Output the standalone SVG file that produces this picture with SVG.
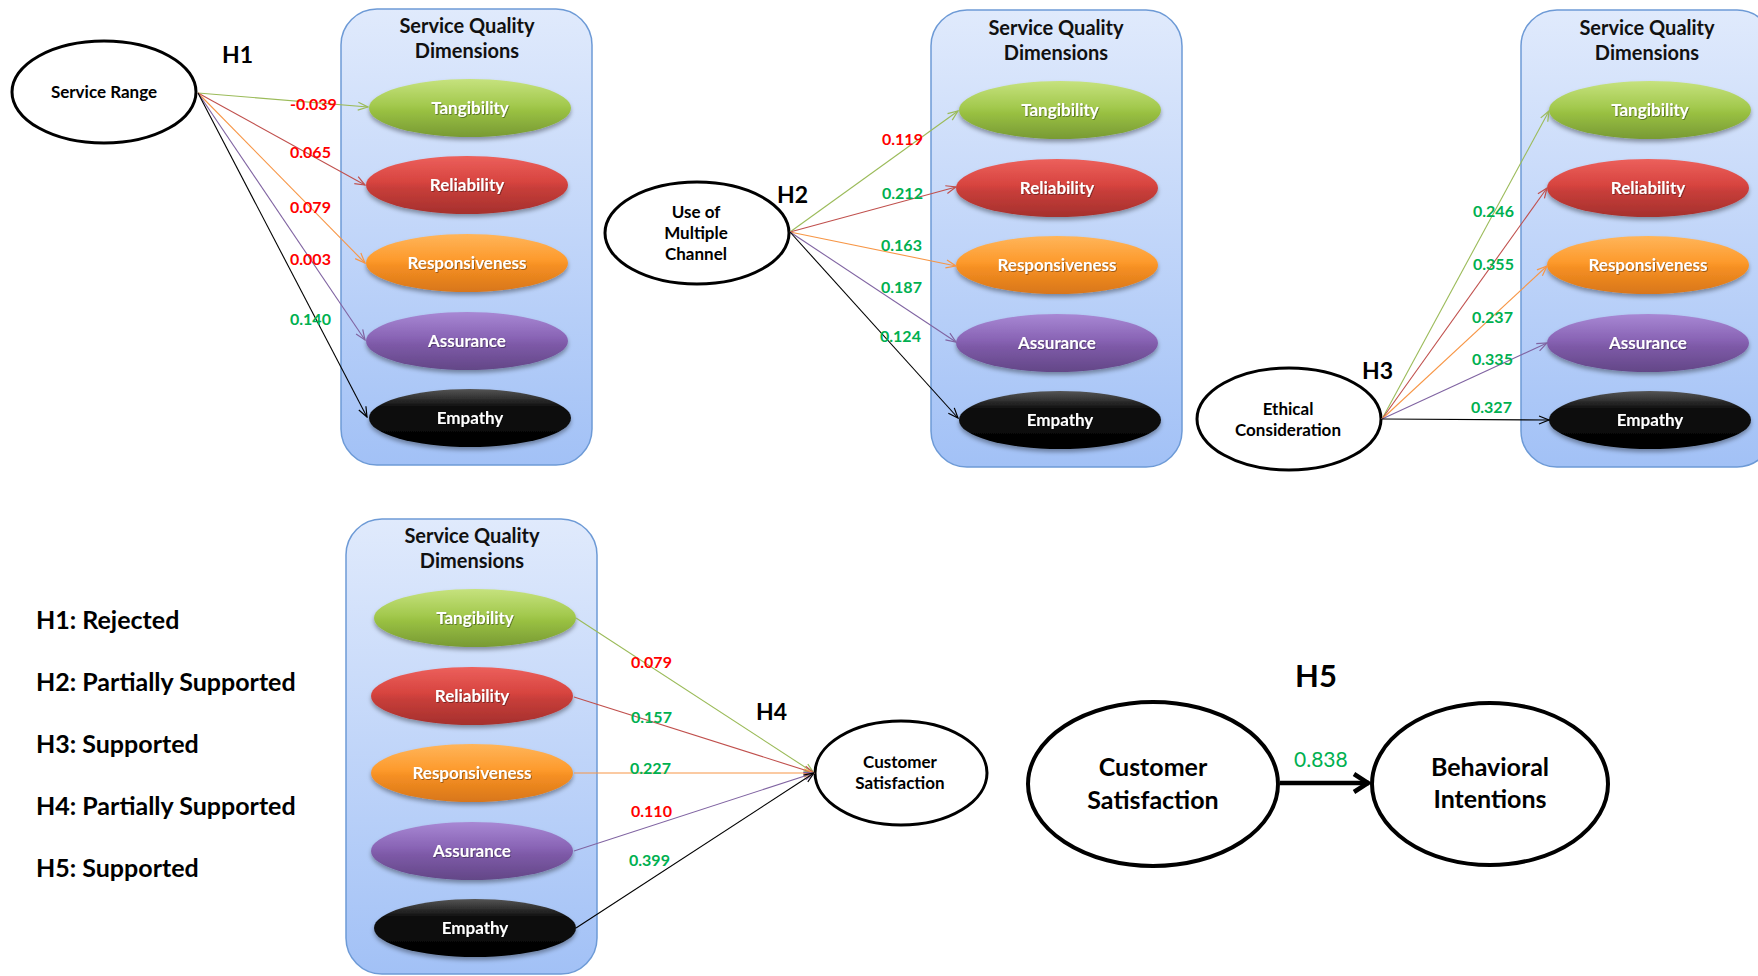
<svg xmlns="http://www.w3.org/2000/svg" width="1758" height="976" viewBox="0 0 1758 976">
  <style>
    text { font-family: Lato, "Liberation Sans", sans-serif; font-weight: 700; }
    .box { stroke: #6D9AD6; stroke-width: 1.5; fill: url(#boxFill); }
    .ttl { font-size: 20px; fill: #111; text-anchor: middle; }
    .dim { stroke: none; filter: url(#shadow); }
    .dl { font-size: 17px; fill: #fff; text-anchor: middle; filter: url(#txtShadow); }
    .oval { fill: #fff; stroke: #000; stroke-width: 3; }
    .big { stroke-width: 4; }
    .ol { font-size: 17px; fill: #000; text-anchor: middle; }
    .bl { font-size: 25px; fill: #000; text-anchor: middle; }
    .hyp { font-size: 23px; fill: #000; }
    .leg { font-size: 25px; fill: #000; }
    .num { font-size: 16px; }
    .red { fill: #FF0000; }
    .grn { fill: #00B050; }
    .edge { fill: none; stroke-width: 1.1; }
    .eg { stroke: #9BBB59; } .er { stroke: #C0504D; } .eo { stroke: #F79646; }
    .ep { stroke: #8064A2; } .ek { stroke: #000; }
  </style>
  <defs>
    <linearGradient id="boxFill" x1="0" y1="0" x2="0" y2="1">
      <stop offset="0" stop-color="#E0EAFC"/>
      <stop offset="1" stop-color="#A2C1F6"/>
    </linearGradient>
    <linearGradient id="gGreen" x1="0" y1="0" x2="0" y2="1">
      <stop offset="0" stop-color="#C6E27E"/>
      <stop offset="0.45" stop-color="#A3C94E"/>
      <stop offset="0.55" stop-color="#99C042"/>
      <stop offset="1" stop-color="#789A34"/>
    </linearGradient>
    <linearGradient id="gRed" x1="0" y1="0" x2="0" y2="1">
      <stop offset="0" stop-color="#EC605C"/>
      <stop offset="0.45" stop-color="#D7443F"/>
      <stop offset="0.55" stop-color="#C83E3A"/>
      <stop offset="1" stop-color="#A5302D"/>
    </linearGradient>
    <linearGradient id="gOrange" x1="0" y1="0" x2="0" y2="1">
      <stop offset="0" stop-color="#FFB55A"/>
      <stop offset="0.45" stop-color="#FD9A2C"/>
      <stop offset="0.55" stop-color="#F58F22"/>
      <stop offset="1" stop-color="#D8761A"/>
    </linearGradient>
    <linearGradient id="gPurple" x1="0" y1="0" x2="0" y2="1">
      <stop offset="0" stop-color="#A888D4"/>
      <stop offset="0.45" stop-color="#8863B4"/>
      <stop offset="0.55" stop-color="#7E5AA8"/>
      <stop offset="1" stop-color="#634787"/>
    </linearGradient>
    <linearGradient id="gBlack" x1="0" y1="0" x2="0" y2="1">
      <stop offset="0" stop-color="#555"/>
      <stop offset="0.3" stop-color="#111"/>
      <stop offset="1" stop-color="#000"/>
    </linearGradient>
    <filter id="shadow" x="-10%" y="-20%" width="120%" height="150%">
      <feDropShadow dx="0" dy="3" stdDeviation="2" flood-color="#000" flood-opacity="0.35"/>
    </filter>
    <filter id="txtShadow" x="-10%" y="-30%" width="120%" height="160%">
      <feDropShadow dx="0.8" dy="0.8" stdDeviation="0.5" flood-color="#000" flood-opacity="0.45"/>
    </filter>
    <marker id="aG" viewBox="0 0 12 10" refX="11" refY="5" markerWidth="12" markerHeight="10" markerUnits="userSpaceOnUse" orient="auto">
      <path d="M1,1 L11,5 L1,9" fill="none" stroke="#9BBB59" stroke-width="1.2"/>
    </marker>
    <marker id="aR" viewBox="0 0 12 10" refX="11" refY="5" markerWidth="12" markerHeight="10" markerUnits="userSpaceOnUse" orient="auto">
      <path d="M1,1 L11,5 L1,9" fill="none" stroke="#C0504D" stroke-width="1.2"/>
    </marker>
    <marker id="aO" viewBox="0 0 12 10" refX="11" refY="5" markerWidth="12" markerHeight="10" markerUnits="userSpaceOnUse" orient="auto">
      <path d="M1,1 L11,5 L1,9" fill="none" stroke="#F79646" stroke-width="1.2"/>
    </marker>
    <marker id="aP" viewBox="0 0 12 10" refX="11" refY="5" markerWidth="12" markerHeight="10" markerUnits="userSpaceOnUse" orient="auto">
      <path d="M1,1 L11,5 L1,9" fill="none" stroke="#8064A2" stroke-width="1.2"/>
    </marker>
    <marker id="aK" viewBox="0 0 12 10" refX="11" refY="5" markerWidth="12" markerHeight="10" markerUnits="userSpaceOnUse" orient="auto">
      <path d="M1,1 L11,5 L1,9" fill="none" stroke="#000" stroke-width="1.2"/>
    </marker>
    <marker id="aBig" viewBox="0 0 20 22" refX="18" refY="11" markerWidth="20" markerHeight="22" markerUnits="userSpaceOnUse" orient="auto">
      <path d="M3,2 L17,11 L3,20" fill="none" stroke="#000" stroke-width="4.5"/>
    </marker>
  </defs>

  <rect width="1758" height="976" fill="#fff"/>

  <!-- H1: Service Range -> dimensions -->
  <g id="sq-box-1">
    <rect class="box" x="341" y="9" width="251" height="456" rx="36"/>
    <text class="ttl" x="467" y="33">Service Quality</text>
    <text class="ttl" x="467" y="58">Dimensions</text>
  </g>
  <g id="h1-tangibility"><ellipse class="dim" cx="470" cy="108" rx="101" ry="29" fill="url(#gGreen)"/><text class="dl" x="470" y="114">Tangibility</text></g>
  <g id="h1-reliability"><ellipse class="dim" cx="467" cy="185" rx="101" ry="29" fill="url(#gRed)"/><text class="dl" x="467" y="191">Reliability</text></g>
  <g id="h1-responsiveness"><ellipse class="dim" cx="467" cy="263" rx="101" ry="29" fill="url(#gOrange)"/><text class="dl" x="467" y="269">Responsiveness</text></g>
  <g id="h1-assurance"><ellipse class="dim" cx="467" cy="341" rx="101" ry="29" fill="url(#gPurple)"/><text class="dl" x="467" y="347">Assurance</text></g>
  <g id="h1-empathy"><ellipse class="dim" cx="470" cy="418" rx="101" ry="29" fill="url(#gBlack)"/><text class="dl" x="470" y="424">Empathy</text></g>
  <g id="service-range">
    <ellipse class="oval" cx="104" cy="92" rx="92" ry="51"/>
    <text class="ol" x="104" y="98">Service Range</text>
  </g>
  <text class="hyp" x="222" y="63">H1</text>

  <!-- H2: Use of Multiple Channel -> dimensions -->
  <g id="sq-box-2">
    <rect class="box" x="931" y="10" width="251" height="457" rx="36"/>
    <text class="ttl" x="1056" y="35">Service Quality</text>
    <text class="ttl" x="1056" y="60">Dimensions</text>
  </g>
  <g id="h2-tangibility"><ellipse class="dim" cx="1060" cy="110" rx="101" ry="29" fill="url(#gGreen)"/><text class="dl" x="1060" y="116">Tangibility</text></g>
  <g id="h2-reliability"><ellipse class="dim" cx="1057" cy="188" rx="101" ry="29" fill="url(#gRed)"/><text class="dl" x="1057" y="194">Reliability</text></g>
  <g id="h2-responsiveness"><ellipse class="dim" cx="1057" cy="265" rx="101" ry="29" fill="url(#gOrange)"/><text class="dl" x="1057" y="271">Responsiveness</text></g>
  <g id="h2-assurance"><ellipse class="dim" cx="1057" cy="343" rx="101" ry="29" fill="url(#gPurple)"/><text class="dl" x="1057" y="349">Assurance</text></g>
  <g id="h2-empathy"><ellipse class="dim" cx="1060" cy="420" rx="101" ry="29" fill="url(#gBlack)"/><text class="dl" x="1060" y="426">Empathy</text></g>
  <g id="multiple-channel">
    <ellipse class="oval" cx="697" cy="233" rx="92" ry="51"/>
    <text class="ol" x="696" y="218">Use of</text>
    <text class="ol" x="696" y="239">Multiple</text>
    <text class="ol" x="696" y="260">Channel</text>
  </g>
  <text class="hyp" x="777" y="203">H2</text>

  <!-- H3: Ethical Consideration -> dimensions -->
  <g id="sq-box-3">
    <rect class="box" x="1521" y="10" width="252" height="457" rx="36"/>
    <text class="ttl" x="1647" y="35">Service Quality</text>
    <text class="ttl" x="1647" y="60">Dimensions</text>
  </g>
  <g id="h3-tangibility"><ellipse class="dim" cx="1650" cy="110" rx="101" ry="29" fill="url(#gGreen)"/><text class="dl" x="1650" y="116">Tangibility</text></g>
  <g id="h3-reliability"><ellipse class="dim" cx="1648" cy="188" rx="101" ry="29" fill="url(#gRed)"/><text class="dl" x="1648" y="194">Reliability</text></g>
  <g id="h3-responsiveness"><ellipse class="dim" cx="1648" cy="265" rx="101" ry="29" fill="url(#gOrange)"/><text class="dl" x="1648" y="271">Responsiveness</text></g>
  <g id="h3-assurance"><ellipse class="dim" cx="1648" cy="343" rx="101" ry="29" fill="url(#gPurple)"/><text class="dl" x="1648" y="349">Assurance</text></g>
  <g id="h3-empathy"><ellipse class="dim" cx="1650" cy="420" rx="101" ry="29" fill="url(#gBlack)"/><text class="dl" x="1650" y="426">Empathy</text></g>
  <g id="ethical-consideration">
    <ellipse class="oval" cx="1289" cy="419" rx="92" ry="51"/>
    <text class="ol" x="1288" y="415">Ethical</text>
    <text class="ol" x="1288" y="436">Consideration</text>
  </g>
  <text class="hyp" x="1362" y="379">H3</text>

  <!-- H4: dimensions -> Customer Satisfaction -->
  <g id="sq-box-4">
    <rect class="box" x="346" y="519" width="251" height="455" rx="36"/>
    <text class="ttl" x="472" y="543">Service Quality</text>
    <text class="ttl" x="472" y="568">Dimensions</text>
  </g>
  <g id="h4-tangibility"><ellipse class="dim" cx="475" cy="618" rx="101" ry="29" fill="url(#gGreen)"/><text class="dl" x="475" y="624">Tangibility</text></g>
  <g id="h4-reliability"><ellipse class="dim" cx="472" cy="696" rx="101" ry="29" fill="url(#gRed)"/><text class="dl" x="472" y="702">Reliability</text></g>
  <g id="h4-responsiveness"><ellipse class="dim" cx="472" cy="773" rx="101" ry="29" fill="url(#gOrange)"/><text class="dl" x="472" y="779">Responsiveness</text></g>
  <g id="h4-assurance"><ellipse class="dim" cx="472" cy="851" rx="101" ry="29" fill="url(#gPurple)"/><text class="dl" x="472" y="857">Assurance</text></g>
  <g id="h4-empathy"><ellipse class="dim" cx="475" cy="928" rx="101" ry="29" fill="url(#gBlack)"/><text class="dl" x="475" y="934">Empathy</text></g>
  <g id="customer-satisfaction-h4">
    <ellipse class="oval" cx="901" cy="773" rx="86" ry="52"/>
    <text class="ol" x="900" y="768">Customer</text>
    <text class="ol" x="900" y="789">Satisfaction</text>
  </g>
  <text class="hyp" x="756" y="720">H4</text>

  <!-- H5: Customer Satisfaction -> Behavioral Intentions -->
  <g id="customer-satisfaction-h5">
    <ellipse class="oval big" cx="1153" cy="784" rx="125" ry="82"/>
    <text class="bl" x="1153" y="776">Customer</text>
    <text class="bl" x="1153" y="809">Satisfaction</text>
  </g>
  <g id="behavioral-intentions">
    <ellipse class="oval big" cx="1490" cy="784" rx="118" ry="81"/>
    <text class="bl" x="1490" y="776">Behavioral</text>
    <text class="bl" x="1490" y="808">Intentions</text>
  </g>
  <text class="hyp" x="1295" y="687" style="font-size:31px">H5</text>

  <!-- Hypothesis outcomes -->
  <g id="legend">
    <text class="leg" x="36" y="629">H1: Rejected</text>
    <text class="leg" x="36" y="691">H2: Partially Supported</text>
    <text class="leg" x="36" y="753">H3: Supported</text>
    <text class="leg" x="36" y="815">H4: Partially Supported</text>
    <text class="leg" x="36" y="877">H5: Supported</text>
  </g>

  <!-- Paths and coefficients -->
  <g id="connectors">
    <line class="edge eg" x1="198" y1="93" x2="368" y2="107" marker-end="url(#aG)"/>
    <line class="edge er" x1="198" y1="93" x2="365" y2="185" marker-end="url(#aR)"/>
    <line class="edge eo" x1="198" y1="93" x2="365" y2="263" marker-end="url(#aO)"/>
    <line class="edge ep" x1="198" y1="93" x2="365" y2="340" marker-end="url(#aP)"/>
    <line class="edge ek" x1="198" y1="93" x2="367" y2="417" marker-end="url(#aK)"/>

    <line class="edge eg" x1="790" y1="232" x2="958" y2="111" marker-end="url(#aG)"/>
    <line class="edge er" x1="790" y1="232" x2="956" y2="187" marker-end="url(#aR)"/>
    <line class="edge eo" x1="790" y1="232" x2="956" y2="266" marker-end="url(#aO)"/>
    <line class="edge ep" x1="790" y1="232" x2="956" y2="342" marker-end="url(#aP)"/>
    <line class="edge ek" x1="790" y1="232" x2="958" y2="418" marker-end="url(#aK)"/>

    <line class="edge eg" x1="1382" y1="419" x2="1549" y2="111" marker-end="url(#aG)"/>
    <line class="edge er" x1="1382" y1="419" x2="1547" y2="188" marker-end="url(#aR)"/>
    <line class="edge eo" x1="1382" y1="419" x2="1547" y2="266" marker-end="url(#aO)"/>
    <line class="edge ep" x1="1382" y1="419" x2="1547" y2="343" marker-end="url(#aP)"/>
    <line class="edge ek" x1="1382" y1="419" x2="1549" y2="420" marker-end="url(#aK)"/>

    <line class="edge eg" x1="576" y1="618" x2="814" y2="773" marker-end="url(#aG)"/>
    <line class="edge er" x1="574" y1="697" x2="814" y2="773" marker-end="url(#aR)"/>
    <line class="edge eo" x1="574" y1="773" x2="814" y2="773" marker-end="url(#aO)"/>
    <line class="edge ep" x1="574" y1="851" x2="814" y2="773" marker-end="url(#aP)"/>
    <line class="edge ek" x1="576" y1="928" x2="814" y2="773" marker-end="url(#aK)"/>

    <line x1="1280" y1="783" x2="1369" y2="783" stroke="#000" stroke-width="4.5" marker-end="url(#aBig)"/>

    <text class="num red" x="290" y="110">-0.039</text>
    <text class="num red" x="290" y="158">0.065</text>
    <text class="num red" x="290" y="213">0.079</text>
    <text class="num red" x="290" y="265">0.003</text>
    <text class="num grn" x="290" y="325">0.140</text>

    <text class="num red" x="882" y="145">0.119</text>
    <text class="num grn" x="882" y="199">0.212</text>
    <text class="num grn" x="881" y="251">0.163</text>
    <text class="num grn" x="881" y="293">0.187</text>
    <text class="num grn" x="880" y="342">0.124</text>

    <text class="num grn" x="1473" y="217">0.246</text>
    <text class="num grn" x="1473" y="270">0.355</text>
    <text class="num grn" x="1472" y="323">0.237</text>
    <text class="num grn" x="1472" y="365">0.335</text>
    <text class="num grn" x="1471" y="413">0.327</text>

    <text class="num red" x="631" y="668">0.079</text>
    <text class="num grn" x="631" y="723">0.157</text>
    <text class="num grn" x="630" y="774">0.227</text>
    <text class="num red" x="631" y="817">0.110</text>
    <text class="num grn" x="629" y="866">0.399</text>

    <text class="grn" x="1294" y="767" style="font-size:21px;font-weight:400">0.838</text>
  </g>
</svg>
